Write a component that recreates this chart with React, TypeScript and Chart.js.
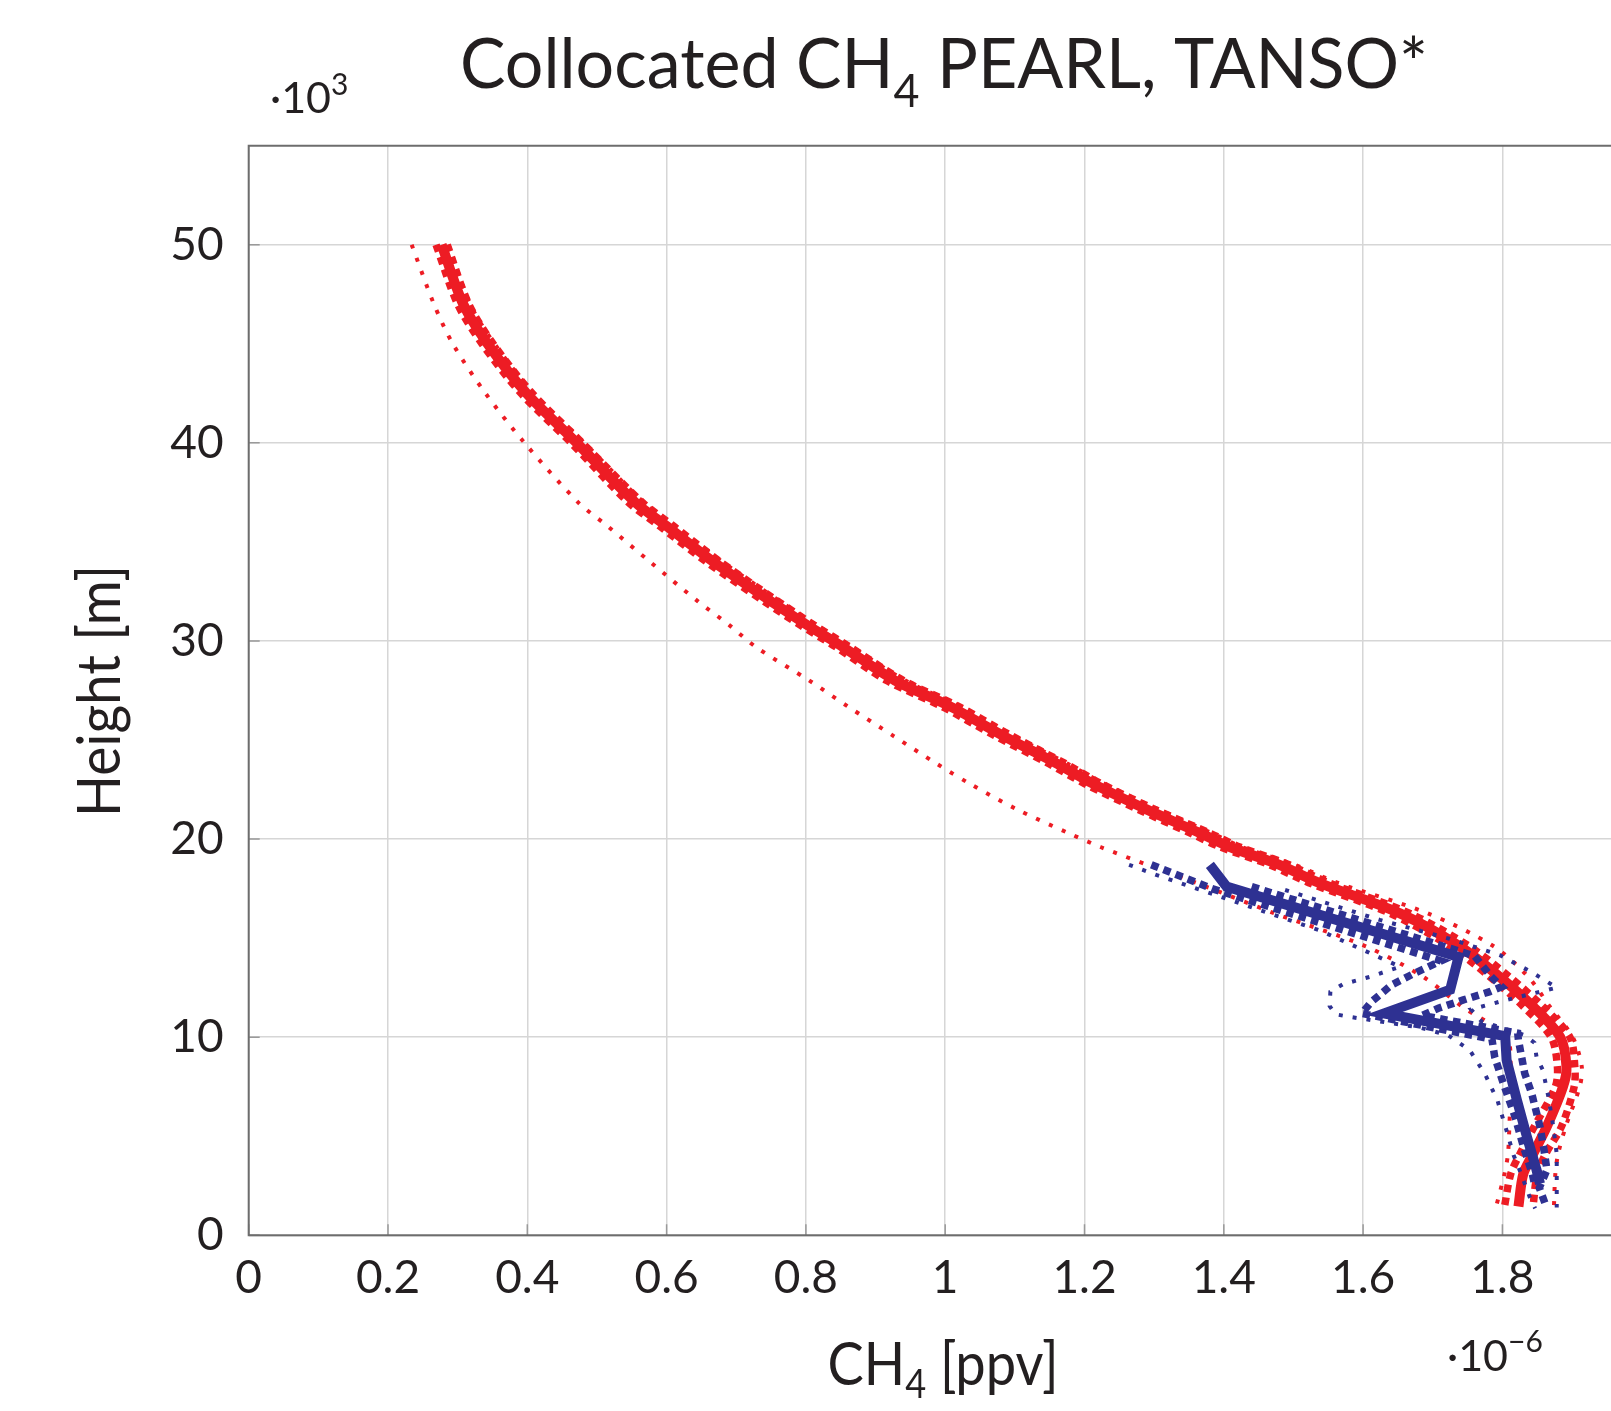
import React, { useEffect, useRef } from "react";
import { Chart, registerables } from "chart.js";

Chart.register(...registerables);

const FONT = "Lato, 'Noto Sans', 'DejaVu Sans', sans-serif";
const RED = "#ED1C24";
const BLUE = "#2E3192";

// Axis settings (x in units of 1e-6 ppv, y in units of 1e3 m)
const xTickValues = [0, 0.2, 0.4, 0.6, 0.8, 1, 1.2, 1.4, 1.6, 1.8, 2];
const yTickValues = [0, 10, 20, 30, 40, 50];
const xMin = 0;
const xMax = 2;
const yMin = 0;
const yMax = 55;

// PEARL (red) profiles: heights shared by all red curves
const pearlHeightKm = [50, 47, 45, 42.5, 40, 37, 35.8, 34, 32, 30.8, 29.7, 28, 26.7, 25.2, 23.8, 22.8, 21.5, 20.3, 19.6, 18.7, 17.8, 16.25, 14.6, 13.05, 11.55, 10, 8.5, 7.5, 5.5, 4.1, 3.1, 1.45];
const pearlMean = [0.277, 0.308, 0.343, 0.399, 0.471, 0.555, 0.6, 0.667, 0.75, 0.802, 0.853, 0.928, 1.007, 1.084, 1.161, 1.212, 1.289, 1.366, 1.409, 1.48, 1.536, 1.653, 1.738, 1.796, 1.844, 1.883, 1.892, 1.887, 1.864, 1.844, 1.83, 1.823];
const pearlSigmaLow = [0.269, 0.3, 0.335, 0.391, 0.463, 0.545, 0.59, 0.657, 0.74, 0.792, 0.843, 0.916, 0.995, 1.072, 1.149, 1.2, 1.277, 1.352, 1.395, 1.466, 1.522, 1.639, 1.724, 1.782, 1.83, 1.87, 1.879, 1.876, 1.846, 1.825, 1.812, 1.803];
const pearlSigmaHigh = [0.285, 0.316, 0.351, 0.407, 0.479, 0.565, 0.61, 0.677, 0.76, 0.812, 0.863, 0.94, 1.019, 1.096, 1.173, 1.224, 1.301, 1.38, 1.423, 1.494, 1.55, 1.667, 1.752, 1.81, 1.858, 1.897, 1.904, 1.903, 1.885, 1.862, 1.85, 1.844];
const pearlMin = [0.234, 0.266, 0.293, 0.34, 0.396, 0.473, 0.515, 0.576, 0.645, 0.69, 0.728, 0.805, 0.86, 0.926, 0.988, 1.035, 1.103, 1.177, 1.223, 1.29, 1.36, 1.473, 1.603, 1.686, 1.742, 1.806, 1.812, 1.812, 1.81, 1.808, 1.803, 1.791];
const pearlMax = [0.287, 0.318, 0.353, 0.409, 0.482, 0.567, 0.612, 0.68, 0.763, 0.815, 0.866, 0.943, 1.022, 1.099, 1.176, 1.228, 1.306, 1.383, 1.426, 1.502, 1.563, 1.693, 1.787, 1.837, 1.868, 1.901, 1.914, 1.911, 1.891, 1.88, 1.876, 1.874];

// TANSO (blue) profiles
const tansoMeanHeightKm = [18.7, 17.6, 14.05, 12.4, 11.2, 10.05, 8.85, 6.8, 5.0, 3.3, 2.6];
const tansoMean = [1.38, 1.404, 1.737, 1.725, 1.63, 1.804, 1.806, 1.821, 1.835, 1.849, 1.854];

const tansoSigmaLowHeightKm = [18.7, 17.5, 13.85, 13.23, 12.64, 11.79, 11.2, 9.9, 9.0, 7.7, 6.0, 4.5, 3.1, 2.6];
const tansoSigmaLow = [1.296, 1.383, 1.712, 1.674, 1.641, 1.612, 1.598, 1.785, 1.789, 1.801, 1.818, 1.83, 1.843, 1.846];

const tansoSigmaHighHeightKm = [17.6, 14.1, 13.05, 12.55, 12.3, 11.88, 11.46, 11.1, 10.2, 9.86, 8.18, 7.17, 5.48, 4.47, 3.3, 2.4, 1.44];
const tansoSigmaHigh = [1.44, 1.76, 1.784, 1.799, 1.782, 1.744, 1.708, 1.685, 1.822, 1.823, 1.832, 1.842, 1.854, 1.859, 1.864, 1.853, 1.863];

const tansoMinHeightKm = [18.7, 18.19, 15.4, 13.56, 13.05, 12.67, 12.3, 11.57, 11.16, 11.03, 10.5, 10.1, 9.35, 8.14, 6.8, 5.4, 4.05, 3.46, 1.95, 1.36];
const tansoMin = [1.264, 1.303, 1.537, 1.653, 1.61, 1.571, 1.553, 1.552, 1.56, 1.58, 1.68, 1.722, 1.753, 1.775, 1.793, 1.805, 1.816, 1.823, 1.839, 1.847];

const tansoMaxHeightKm = [17.43, 15.92, 14.97, 14.15, 13.3, 12.5, 11.8, 11.4, 10.8, 10.1, 9.72, 9.0, 8.35, 7.0, 5.5, 4.1, 3.2, 1.4];
const tansoMax = [1.488, 1.624, 1.724, 1.796, 1.841, 1.878, 1.797, 1.755, 1.77, 1.832, 1.846, 1.849, 1.858, 1.866, 1.873, 1.878, 1.878, 1.878];

const pts = (xs: number[], ys: number[]) => xs.map((x, i) => ({ x, y: ys[i] }));

type Part = { t: string; size: number; dy?: number };

function drawRich(
  ctx: CanvasRenderingContext2D,
  parts: Part[],
  x: number,
  y: number,
  align: "center" | "left",
  targetWidth?: number
) {
  ctx.save();
  ctx.textBaseline = "alphabetic";
  ctx.textAlign = "left";
  ctx.fillStyle = "#231f20";
  let total = 0;
  const widths = parts.map((p) => {
    ctx.font = `${p.size}px ${FONT}`;
    const w = ctx.measureText(p.t).width;
    total += w;
    return w;
  });
  const sx = targetWidth ? targetWidth / total : 1;
  const drawnWidth = total * sx;
  const startX = align === "center" ? x - drawnWidth / 2 : x;
  ctx.translate(startX, y);
  ctx.scale(sx, 1);
  let cx = 0;
  parts.forEach((p, i) => {
    ctx.font = `${p.size}px ${FONT}`;
    ctx.fillText(p.t, cx, p.dy || 0);
    cx += widths[i];
  });
  ctx.restore();
}

const decorPlugin = {
  id: "decor",
  afterDatasetsDraw(chart: any) {
    const { ctx, chartArea } = chart;
    const { left, top, right, bottom } = chartArea;
    const xs = chart.scales.x;
    const ys = chart.scales.y;
    ctx.save();
    // inward tick marks
    ctx.strokeStyle = "#9a9a9a";
    ctx.lineWidth = 1.5;
    ctx.beginPath();
    xTickValues.forEach((v) => {
      const px = xs.getPixelForValue(v);
      ctx.moveTo(px, bottom);
      ctx.lineTo(px, bottom - 11);
    });
    yTickValues.forEach((v) => {
      const py = ys.getPixelForValue(v);
      ctx.moveTo(left, py);
      ctx.lineTo(left + 11, py);
    });
    ctx.stroke();
    // frame
    ctx.strokeStyle = "#6d6d6d";
    ctx.lineWidth = 2;
    ctx.beginPath();
    ctx.moveTo(right, top);
    ctx.lineTo(left, top);
    ctx.lineTo(left, bottom);
    ctx.lineTo(right, bottom);
    ctx.stroke();
    ctx.restore();
  },
  afterDraw(chart: any) {
    const ctx = chart.ctx as CanvasRenderingContext2D;
    // Title
    drawRich(
      ctx,
      [
        { t: "Collocated CH", size: 70 },
        { t: "4", size: 46, dy: 19 },
        { t: " PEARL, TANSO*", size: 70 },
      ],
      944,
      88,
      "center",
      968
    );
    // y scale multiplier
    drawRich(
      ctx,
      [
        { t: "·10", size: 43 },
        { t: "3", size: 30, dy: -18 },
      ],
      270,
      113,
      "left"
    );
    // x scale multiplier
    drawRich(
      ctx,
      [
        { t: "·10", size: 43 },
        { t: "−6", size: 30, dy: -19 },
      ],
      1447,
      1371,
      "left"
    );
    // x axis title
    drawRich(
      ctx,
      [
        { t: "CH", size: 60 },
        { t: "4", size: 40, dy: 13 },
        { t: " [ppv]", size: 60 },
      ],
      943,
      1385,
      "center",
      231
    );
    // y axis title
    ctx.save();
    ctx.translate(120, 691);
    ctx.rotate(-Math.PI / 2);
    drawRich(ctx, [{ t: "Height [m]", size: 60 }], 0, 0, "center", 252);
    ctx.restore();
  },
};

function line(
  data: { x: number; y: number }[],
  color: string,
  kind: "solid" | "thick" | "thin",
  smooth: boolean
) {
  const base: any = {
    data,
    borderColor: color,
    backgroundColor: color,
    showLine: true,
    fill: false,
    pointRadius: 0,
    pointHoverRadius: 0,
    borderCapStyle: "butt",
    borderJoinStyle: smooth ? "round" : "miter",
    tension: smooth ? 0.3 : 0,
  };
  if (kind === "solid") {
    base.borderWidth = 10;
    base.borderDash = [];
  } else if (kind === "thick") {
    base.borderWidth = 7.5;
    base.borderDash = [7.5, 5.5];
  } else {
    base.borderWidth = 4;
    base.borderDash = [4, 10];
  }
  return base;
}

export default function App() {
  const ref = useRef<HTMLCanvasElement | null>(null);

  useEffect(() => {
    if (!ref.current) return;
    const fmt = (v: number) => String(Math.round(v * 10) / 10);
    const chart = new Chart(ref.current, {
      type: "scatter",
      data: {
        datasets: [
          line(pts(tansoMean, tansoMeanHeightKm), BLUE, "solid", false),
          line(pts(tansoSigmaLow, tansoSigmaLowHeightKm), BLUE, "thick", false),
          line(pts(tansoSigmaHigh, tansoSigmaHighHeightKm), BLUE, "thick", false),
          line(pts(tansoMin, tansoMinHeightKm), BLUE, "thin", false),
          line(pts(tansoMax, tansoMaxHeightKm), BLUE, "thin", false),
          line(pts(pearlMean, pearlHeightKm), RED, "solid", true),
          line(pts(pearlSigmaLow, pearlHeightKm), RED, "thick", true),
          line(pts(pearlSigmaHigh, pearlHeightKm), RED, "thick", true),
          line(pts(pearlMin, pearlHeightKm), RED, "thin", true),
          line(pts(pearlMax, pearlHeightKm), RED, "thin", true),
        ],
      },
      options: {
        responsive: false,
        animation: false,
        devicePixelRatio: 1,
        events: [],
        layout: { padding: { top: 145.7, left: 0, right: 58.3, bottom: 0 } },
        plugins: {
          legend: { display: false },
          tooltip: { enabled: false },
          title: { display: false },
        },
        scales: {
          x: {
            type: "linear",
            min: xMin,
            max: xMax,
            afterBuildTicks: (s: any) => {
              s.ticks = xTickValues.map((v) => ({ value: v }));
            },
            afterFit: (s: any) => {
              s.height = 1411 - 1235.3;
              s.paddingLeft = 0;
              s.paddingRight = 0;
            },
            ticks: {
              autoSkip: false,
              maxRotation: 0,
              minRotation: 0,
              padding: 15,
              color: "#231f20",
              font: { family: FONT, size: 46 },
              callback: (v: any) => fmt(Number(v)),
            },
            grid: { color: "#d6d6d6", lineWidth: 1.5, drawTicks: false },
            border: { display: false },
          },
          y: {
            type: "linear",
            min: yMin,
            max: yMax,
            afterBuildTicks: (s: any) => {
              s.ticks = yTickValues.map((v) => ({ value: v }));
            },
            afterFit: (s: any) => {
              s.width = 248.7;
              s.paddingTop = 0;
              s.paddingBottom = 0;
            },
            ticks: {
              padding: 25,
              color: "#231f20",
              font: { family: FONT, size: 46 },
              callback: (v: any) => String(v),
            },
            grid: { color: "#d6d6d6", lineWidth: 1.5, drawTicks: false },
            border: { display: false },
          },
        },
      },
      plugins: [decorPlugin],
    } as any);
    return () => chart.destroy();
  }, []);

  return (
    <div
      style={{
        position: "absolute",
        left: 0,
        top: 0,
        width: 1611,
        height: 1411,
        overflow: "hidden",
        background: "#ffffff",
      }}
    >
      <canvas
        ref={ref}
        width={1700}
        height={1411}
        style={{ display: "block", width: 1700, height: 1411 }}
      />
    </div>
  );
}
